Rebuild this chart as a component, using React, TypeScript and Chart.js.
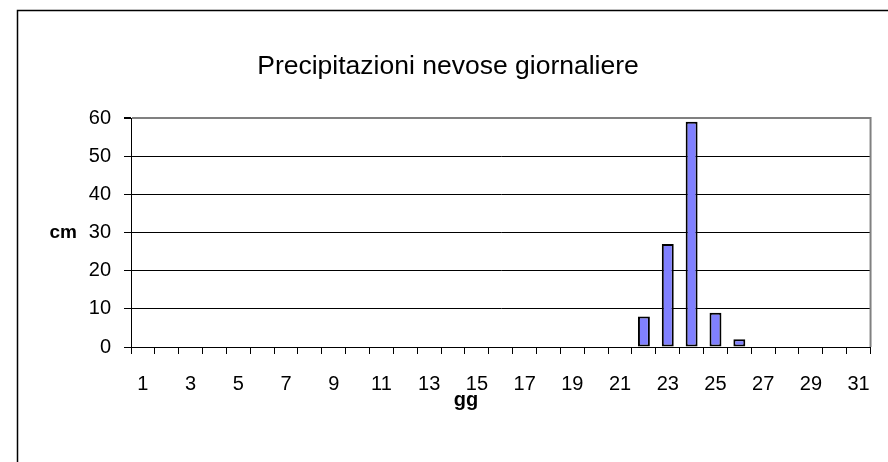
import React, { useEffect, useRef } from 'react';
import { Chart, registerables } from 'chart.js';

Chart.register(...registerables);

const days = ['1', '2', '3', '4', '5', '6', '7', '8', '9', '10', '11', '12', '13', '14', '15', '16', '17', '18', '19', '20', '21', '22', '23', '24', '25', '26', '27', '28', '29', '30', '31'];
const snowCm = [0, 0, 0, 0, 0, 0, 0, 0, 0, 0, 0, 0, 0, 0, 0, 0, 0, 0, 0, 0, 0, 8, 27, 59, 9, 2, 0, 0, 0, 0, 0];
const yMin = 0;
const yMax = 60;
const yStep = 10;
const chartTitle = 'Precipitazioni nevose giornaliere';
const xTitle = 'gg';
const yTitle = 'cm';

const FONT = '"Liberation Sans", Arial, Helvetica, sans-serif';

const framePlugin = {
  id: 'frame',
  beforeDraw(chart: any) {
    const { ctx, width, height } = chart;
    ctx.save();
    ctx.fillStyle = '#ffffff';
    ctx.fillRect(0, 0, width, height);
    ctx.restore();
  },
  afterDraw(chart: any) {
    const { ctx, chartArea } = chart;
    ctx.save();
    // plot area right border (gray)
    ctx.strokeStyle = '#808080';
    ctx.lineWidth = 2;
    ctx.beginPath();
    ctx.moveTo(chartArea.right, chartArea.top - 1);
    ctx.lineTo(chartArea.right, chartArea.bottom);
    ctx.stroke();
    // outer frame
    ctx.strokeStyle = '#000000';
    ctx.lineWidth = 1.5;
    ctx.beginPath();
    ctx.moveTo(17.5, chart.height);
    ctx.lineTo(17.5, 10.5);
    ctx.lineTo(chart.width, 10.5);
    ctx.stroke();
    // chart title
    ctx.fillStyle = '#000000';
    ctx.textBaseline = 'middle';
    ctx.textAlign = 'center';
    ctx.font = '26.5px ' + FONT;
    ctx.fillText(chartTitle, 448, 67);
    // axis titles
    const yScale = chart.scales.y;
    ctx.font = 'bold 19px ' + FONT;
    ctx.textAlign = 'right';
    ctx.fillText(yTitle, 77, yScale.getPixelForValue((yMin + yMax) / 2));
    ctx.font = 'bold 20px ' + FONT;
    ctx.textAlign = 'center';
    ctx.fillText(xTitle, 466, 400);
    ctx.restore();
  },
};

export default function App() {
  const ref = useRef<HTMLCanvasElement | null>(null);

  useEffect(() => {
    if (!ref.current) return;
    const chart = new Chart(ref.current, {
      type: 'bar',
      data: {
        labels: days,
        datasets: [
          {
            data: snowCm,
            backgroundColor: '#8080ff',
            borderColor: '#000000',
            borderWidth: 2,
            borderSkipped: false,
            barPercentage: 0.5,
            categoryPercentage: 1,
          },
        ],
      },
      options: {
        responsive: false,
        animation: false,
        devicePixelRatio: 1,
        layout: { padding: { left: 0, top: 118, right: 16, bottom: 0 } },
        plugins: {
          legend: { display: false },
          tooltip: { enabled: false },
          title: { display: false },
        },
        scales: {
          x: {
            offset: true,
            grid: {
              display: true,
              drawOnChartArea: false,
              drawTicks: true,
              tickLength: 7,
              offset: true,
              color: '#000000',
            },
            border: { display: true, color: '#000000', width: 1 },
            ticks: {
              autoSkip: false,
              maxRotation: 0,
              color: '#000000',
              font: { family: FONT, size: 20 },
              padding: 18,
              callback: (_v: any, i: number) => (i % 2 === 0 ? days[i] : ''),
            },
            title: { display: false },
            afterFit: (scale: any) => {
              scale.height = 115;
            },
          },
          y: {
            min: yMin,
            max: yMax,
            grid: {
              display: true,
              drawTicks: true,
              tickLength: 7,
              color: (c: any) => (c.tick && c.tick.value === yMax ? '#808080' : '#000000'),
              lineWidth: (c: any) => (c.tick && c.tick.value === yMax ? 2 : 1),
              tickColor: '#000000',
            },
            border: { display: true, color: '#000000', width: 1 },
            ticks: {
              stepSize: yStep,
              color: '#000000',
              font: { family: FONT, size: 20 },
              padding: 13,
            },
            afterFit: (scale: any) => {
              scale.width = 131;
            },
          },
        },
      },
      plugins: [framePlugin],
    });
    return () => chart.destroy();
  }, []);

  return (
    <div style={{ position: 'fixed', left: 0, top: 0, width: 888, height: 462, background: '#fff' }}>
      <canvas ref={ref} width={888} height={462} style={{ display: 'block', width: 888, height: 462 }} />
    </div>
  );
}
